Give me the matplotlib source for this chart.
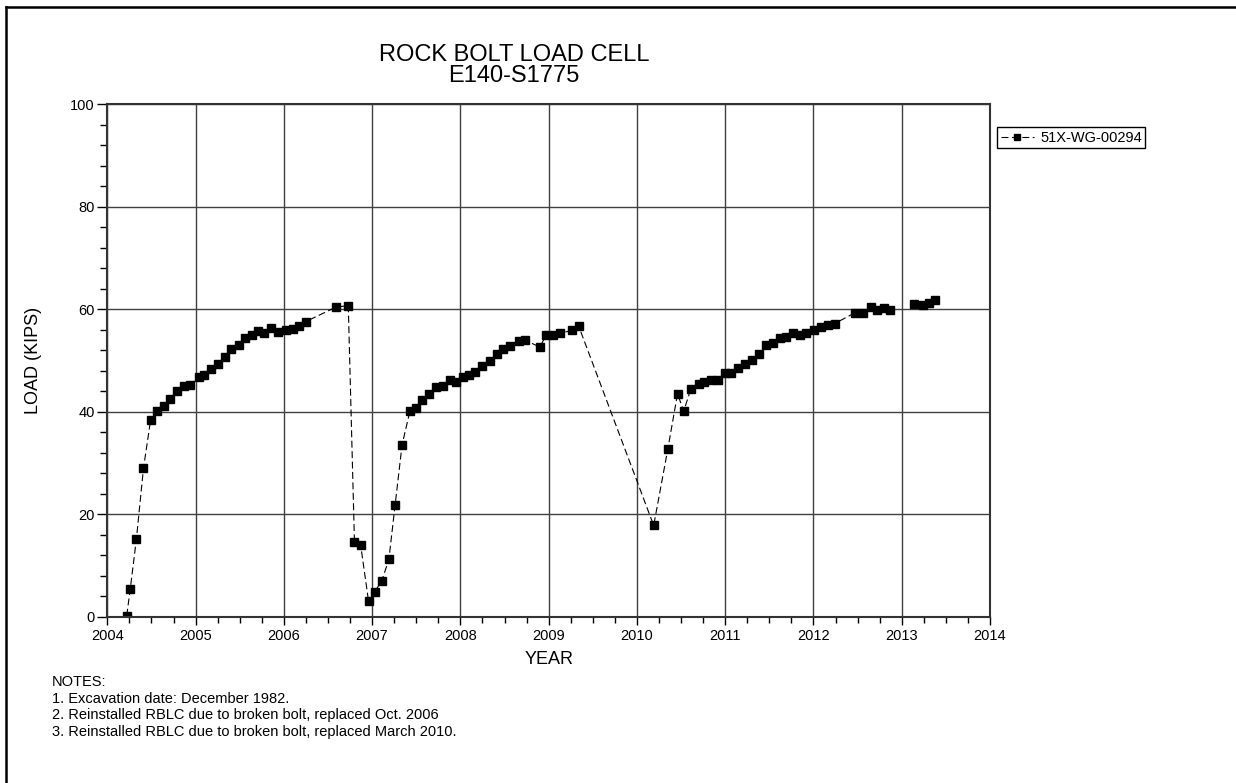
import matplotlib.pyplot as plt
import matplotlib.lines as mlines
import numpy as np

plt.rcParams['font.family'] = ['Liberation Sans', 'DejaVu Sans']
plt.rcParams['lines.scale_dashes'] = False

# readings from the load cell (decimal year, kips)
years = [2004.22, 2004.26, 2004.33, 2004.41, 2004.49, 2004.56, 2004.64, 2004.71,
         2004.79, 2004.87, 2004.94, 2005.04, 2005.10, 2005.17, 2005.25, 2005.33,
         2005.40, 2005.49, 2005.56, 2005.64, 2005.71, 2005.78, 2005.86, 2005.93,
         2006.03, 2006.10, 2006.17, 2006.25, 2006.59, 2006.73, 2006.80, 2006.87,
         2006.96, 2007.03, 2007.11, 2007.19, 2007.26, 2007.34, 2007.43, 2007.50,
         2007.57, 2007.64, 2007.72, 2007.80, 2007.88, 2007.95, 2008.03, 2008.10,
         2008.17, 2008.25, 2008.33, 2008.41, 2008.48, 2008.56, 2008.66, 2008.73,
         2008.90, 2008.97, 2009.05, 2009.13, 2009.27, 2009.34, 2010.19, 2010.35,
         2010.46, 2010.53, 2010.61, 2010.70, 2010.76, 2010.84, 2010.92, 2011.00,
         2011.07, 2011.15, 2011.23, 2011.30, 2011.38, 2011.46, 2011.54, 2011.62,
         2011.69, 2011.77, 2011.85, 2011.92, 2012.01, 2012.08, 2012.16, 2012.24,
         2012.47, 2012.56, 2012.65, 2012.72, 2012.80, 2012.87]
load = [0.2, 5.4, 15.2, 29.0, 38.3, 40.1, 41.2, 42.5,
        44.0, 45.0, 45.3, 46.8, 47.2, 48.4, 49.3, 50.7,
        52.2, 53.0, 54.4, 55.0, 55.8, 55.4, 56.3, 55.6,
        55.9, 56.2, 56.7, 57.6, 60.4, 60.7, 14.6, 14.0,
        3.0, 4.9, 7.0, 11.2, 21.7, 33.6, 40.2, 40.8,
        42.3, 43.5, 44.8, 45.1, 46.1, 45.7, 46.8, 47.2,
        47.7, 49.0, 49.9, 51.3, 52.3, 52.9, 53.8, 54.0,
        52.6, 54.9, 55.0, 55.3, 55.9, 56.7, 17.8, 32.7,
        43.5, 40.1, 44.4, 45.5, 45.7, 46.1, 46.2, 47.5,
        47.5, 48.6, 49.3, 50.1, 51.3, 53.0, 53.5, 54.4,
        54.5, 55.3, 55.0, 55.4, 55.9, 56.5, 56.9, 57.2,
        59.3, 59.3, 60.4, 59.9, 60.2, 59.8]
# 2013 readings, not joined to the earlier ones
years_2013 = [2013.14, 2013.24, 2013.31, 2013.38]
load_2013 = [61.0, 60.8, 61.2, 61.8]

series_name = '51X-WG-00294'
year_ticks = list(range(2004, 2015))
load_ticks = [0, 20, 40, 60, 80, 100]

fig = plt.figure(figsize=(12.36, 7.83), dpi=100)
W, H = 1236, 783
ax = fig.add_axes([107.3 / W, 1 - 616.7 / H, (990 - 107.3) / W, (616.7 - 104.2) / H])

style = dict(color='black', lw=0.8, dashes=(5, 2.5), marker='s', markersize=5.5,
             markerfacecolor='black', markeredgecolor='black')
ax.plot(years, load, label=series_name, **style)
ax.plot(years_2013, load_2013, **style)

ax.set_xlim(2004, 2014)
ax.set_ylim(0, 100)
ax.set_xticks(year_ticks)
ax.set_xticks(np.arange(2004, 2014.01, 0.25), minor=True)
ax.set_yticks(load_ticks)
ax.set_yticks(np.arange(0, 100.1, 4), minor=True)
ax.tick_params(axis='both', which='major', direction='out', labelsize=10.5, width=1)
ax.tick_params(axis='x', which='major', length=5.5, pad=3)
ax.tick_params(axis='x', which='minor', direction='out', length=4, width=1)
ax.tick_params(axis='y', which='major', length=7, pad=2)
ax.tick_params(axis='y', which='minor', direction='out', length=5, width=1)
ax.grid(True, which='major', color='0.25', lw=1)
for s in ax.spines.values():
    s.set_linewidth(1.5)
    s.set_color('0.2')

ax.set_xlabel('YEAR', fontsize=13)
ax.set_ylabel('LOAD (KIPS)', fontsize=13)
ax.xaxis.set_label_coords(0.5, -0.066)
ax.yaxis.set_label_coords(-0.074, 0.5)

fig.text(514 / W, 1 - 55 / H, 'ROCK BOLT LOAD CELL', ha='center', va='center', fontsize=17)
fig.text(514 / W, 1 - 76 / H, 'E140-S1775', ha='center', va='center', fontsize=17)

leg = ax.legend(loc='upper left', bbox_to_anchor=(997 / W, 1 - 127 / H),
                bbox_transform=fig.transFigure, borderaxespad=0, borderpad=0.25,
                handlelength=2.3, handletextpad=0.4, fontsize=10.5, fancybox=False,
                framealpha=1, edgecolor='black', markerscale=0.9)
leg.get_frame().set_linewidth(1)

notes = ['NOTES:',
         '1. Excavation date: December 1982.',
         '2. Reinstalled RBLC due to broken bolt, replaced Oct. 2006',
         '3. Reinstalled RBLC due to broken bolt, replaced March 2010.']
for i, line in enumerate(notes):
    fig.text(52 / W, 1 - (682 + i * 16.7) / H, line, ha='left', va='center', fontsize=10.5)

# page border
fig.add_artist(mlines.Line2D([6 / W, 6 / W], [0, 1 - 7 / H], color='black', lw=1.8))
fig.add_artist(mlines.Line2D([6 / W, 1], [1 - 7 / H, 1 - 7 / H], color='black', lw=1.8))

fig.savefig('out.png', dpi=100)
